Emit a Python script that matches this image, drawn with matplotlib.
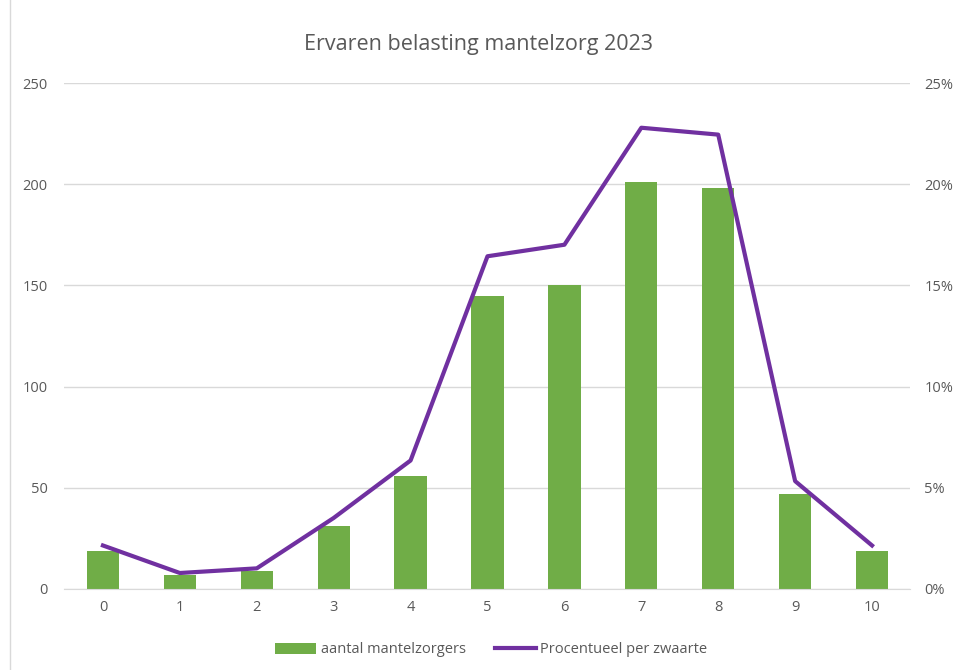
import matplotlib
matplotlib.use("Agg")
import matplotlib.pyplot as plt
from matplotlib.ticker import FuncFormatter

categories = ["0", "1", "2", "3", "4", "5", "6", "7", "8", "9", "10"]
aantal = [19, 7, 9, 31, 56, 145, 150, 201, 198, 47, 19]
procent = [2.15, 0.79, 1.02, 3.51, 6.35, 16.44, 17.01, 22.79, 22.45, 5.33, 2.15]

plt.rcParams['font.family'] = ['Open Sans', 'DejaVu Sans']
txt = '#595959'
grid = '#D9D9D9'

fig = plt.figure(figsize=(9.54, 6.70), dpi=100)
ax = fig.add_axes([0.0676, 0.1209, 0.8868, 0.7552])
x = list(range(len(categories)))
ax.bar(x, aantal, width=0.42, color='#70AD47', label='aantal mantelzorgers', zorder=2)
ax.set_xlim(-0.5, len(categories) - 0.5)
ax.set_ylim(0, 250)
ax.set_yticks([0, 50, 100, 150, 200, 250])
ax.set_xticks(x)
ax.set_xticklabels(categories)
ax.grid(axis='y', color=grid, linewidth=1, zorder=0)
for s in ['top', 'left', 'right']:
    ax.spines[s].set_visible(False)
ax.spines['bottom'].set_color(grid)
ax.tick_params(length=0, colors=txt, labelsize=10.5, pad=8)
ax.tick_params(axis='y', pad=12)

ax2 = ax.twinx()
ax2.plot(x, procent, color='#7030A0', linewidth=3, label='Procentueel per zwaarte', zorder=3)
ax2.set_ylim(0, 25)
ax2.set_yticks([0, 5, 10, 15, 20, 25])
ax2.yaxis.set_major_formatter(FuncFormatter(lambda v, p: f"{int(v)}%"))
for s in ['top', 'left', 'right', 'bottom']:
    ax2.spines[s].set_visible(False)
ax2.tick_params(length=0, colors=txt, labelsize=10.5, pad=10)

fig.text(0.502, 0.933, 'Ervaren belasting mantelzorg 2023', ha='center', va='center',
         fontsize=15.5, color=txt)

h1, l1 = ax.get_legend_handles_labels()
h2, l2 = ax2.get_legend_handles_labels()
fig.legend(h1 + h2, l1 + l2, loc='center', bbox_to_anchor=(0.515, 0.03), ncol=2,
           frameon=False, fontsize=10.5, labelcolor=txt, handlelength=2.8,
           handleheight=0.8, handletextpad=0.3, columnspacing=2.0)

fig.add_artist(plt.Line2D([0.0105, 0.0105], [0, 1], color=grid, linewidth=1, transform=fig.transFigure))
fig.savefig('out.png', dpi=100)
